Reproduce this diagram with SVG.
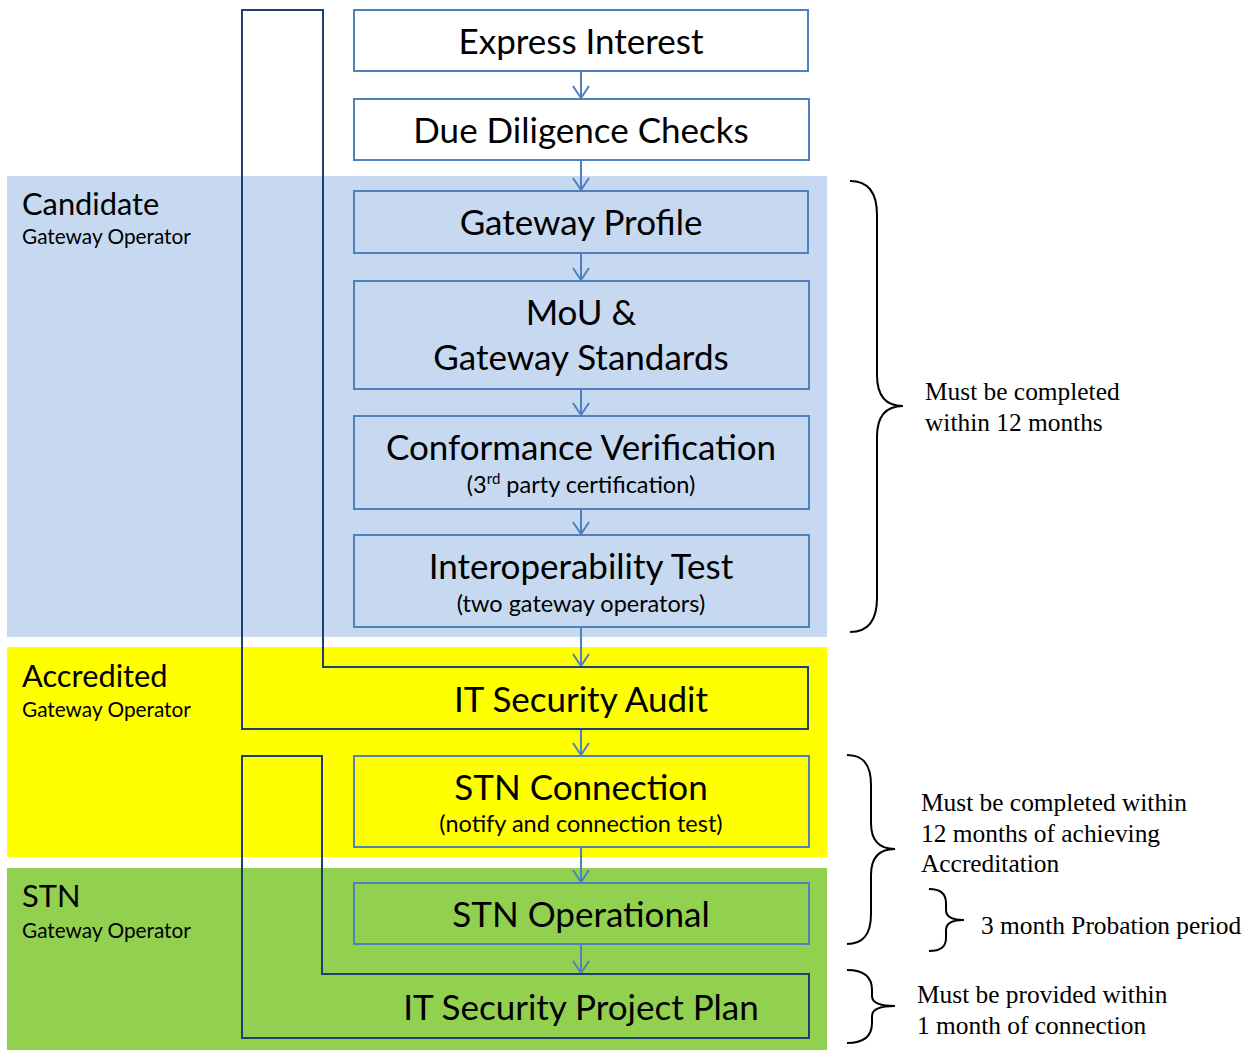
<svg xmlns="http://www.w3.org/2000/svg" width="1253" height="1050" viewBox="0 0 1253 1050">
<defs>
<style>
.box{fill:none;stroke:#4f81bd;stroke-width:2}
.wbox{fill:#ffffff;stroke:#4f81bd;stroke-width:2}
.outline{fill:none;stroke:#1f3f6e;stroke-width:2}
.conn{stroke:#4f81bd;stroke-width:2;fill:none;marker-end:url(#arr)}
.t{font-family:Lato,"Open Sans","Noto Sans",sans-serif;fill:#000;text-anchor:middle}
.big{font-size:35px}
.sub{font-size:23.5px}
.lab{font-family:Lato,"Open Sans","Noto Sans",sans-serif;fill:#000}
.lbig{font-size:30.8px}
.lsm{font-size:20.8px}
.note{font-family:"Liberation Serif","Times New Roman",serif;font-size:25.4px;fill:#000}
.brace{fill:none;stroke:#000;stroke-width:2}
</style>
<marker id="arr" viewBox="0 0 14 18" refX="13" refY="9" markerWidth="14" markerHeight="18" markerUnits="userSpaceOnUse" orient="auto">
<path d="M1,1 L13,9 L1,17" fill="none" stroke="#4f81bd" stroke-width="2"/>
</marker>
</defs>

<g id="bands">
<rect x="7" y="176" width="820" height="461" fill="#c6d9f1"/>
<rect x="7" y="647" width="820" height="210" fill="#ffff00"/>
<rect x="7" y="868" width="820" height="182" fill="#92d050"/>
</g>

<g id="band-labels">
<text class="lab lbig" x="22" y="215">Candidate</text>
<text class="lab lsm" x="22" y="244">Gateway Operator</text>
<text class="lab lbig" x="22" y="687">Accredited</text>
<text class="lab lsm" x="22" y="717">Gateway Operator</text>
<text class="lab lbig" x="22" y="907">STN</text>
<text class="lab lsm" x="22" y="938">Gateway Operator</text>
</g>

<g id="connectors">
<line class="conn" x1="581" y1="72" x2="581" y2="98"/>
<line class="conn" x1="581" y1="161" x2="581" y2="190"/>
<line class="conn" x1="581" y1="254" x2="581" y2="280"/>
<line class="conn" x1="581" y1="390" x2="581" y2="415"/>
<line class="conn" x1="581" y1="510" x2="581" y2="534"/>
<line class="conn" x1="581" y1="628" x2="581" y2="666"/>
<line class="conn" x1="581" y1="730" x2="581" y2="755"/>
<line class="conn" x1="581" y1="848" x2="581" y2="882"/>
<line class="conn" x1="581" y1="945" x2="581" y2="973"/>
</g>

<g id="n-express">
<rect class="wbox" x="354" y="10" width="454" height="61"/>
<text class="t big" x="581" y="54">Express Interest</text>
</g>
<g id="n-due">
<rect class="wbox" x="354" y="99" width="455" height="61"/>
<text class="t big" x="581" y="143">Due Diligence Checks</text>
</g>
<g id="n-profile">
<rect class="box" x="354" y="191" width="454" height="62"/>
<text class="t big" x="581" y="235">Gateway Profile</text>
</g>
<g id="n-mou">
<rect class="box" x="354" y="281" width="455" height="108"/>
<text class="t big" x="581" y="325">MoU &amp;</text>
<text class="t big" x="581" y="370">Gateway Standards</text>
</g>
<g id="n-conf">
<rect class="box" x="354" y="416" width="455" height="93"/>
<text class="t big" x="581" y="460">Conformance Verification</text>
<text class="t sub" x="581" y="493">(3<tspan font-size="15" baseline-shift="super">rd</tspan> party certification)</text>
</g>
<g id="n-interop">
<rect class="box" x="354" y="535" width="455" height="92"/>
<text class="t big" x="581" y="579">Interoperability Test</text>
<text class="t sub" x="581" y="612">(two gateway operators)</text>
</g>
<g id="n-audit">
<path class="outline" d="M242,10 L323,10 L323,667 L808,667 L808,729 L242,729 Z"/>
<text class="t big" x="581" y="712">IT Security Audit</text>
</g>
<g id="n-stnconn">
<rect class="box" x="354" y="756" width="455" height="91"/>
<text class="t big" x="581" y="800">STN Connection</text>
<text class="t sub" x="581" y="832">(notify and connection test)</text>
</g>
<g id="n-stnop">
<rect class="box" x="354" y="883" width="455" height="61"/>
<text class="t big" x="581" y="927">STN Operational</text>
</g>
<g id="n-plan">
<path class="outline" d="M242,756 L322,756 L322,974 L809,974 L809,1038 L242,1038 Z"/>
<text class="t big" x="581" y="1020">IT Security Project Plan</text>
</g>

<g id="notes">
<path class="brace" d="M850,181 C866,181 877,190 877,215 L877,375 C877,398 888,406 903,406 C888,406 877,414 877,437 L877,598 C877,623 866,632 850,632"/>
<text class="note" x="925" y="400">Must be completed</text>
<text class="note" x="925" y="431">within 12 months</text>

<path class="brace" d="M847,755 C862,755 871,763 871,785 L871,823 C871,842 880,849 895,849 C880,849 871,856 871,875 L871,914 C871,936 862,944 847,944"/>
<text class="note" x="921" y="811">Must be completed within</text>
<text class="note" x="921" y="842">12 months of achieving</text>
<text class="note" x="921" y="872">Accreditation</text>

<path class="brace" d="M929,889 C941,889 946,894 946,903 L946,910 C946,917 953,920 964,920 C953,920 946,923 946,930 L946,938 C946,947 941,951 929,951"/>
<text class="note" x="981" y="934">3 month Probation period</text>

<path class="brace" d="M847,970 C862,970 872,976 872,990 L872,996 C872,1003 880,1006 895,1006 C880,1006 872,1009 872,1016 L872,1023 C872,1037 862,1043 847,1043"/>
<text class="note" x="917" y="1003">Must be provided within</text>
<text class="note" x="917" y="1034">1 month of connection</text>
</g>
</svg>
